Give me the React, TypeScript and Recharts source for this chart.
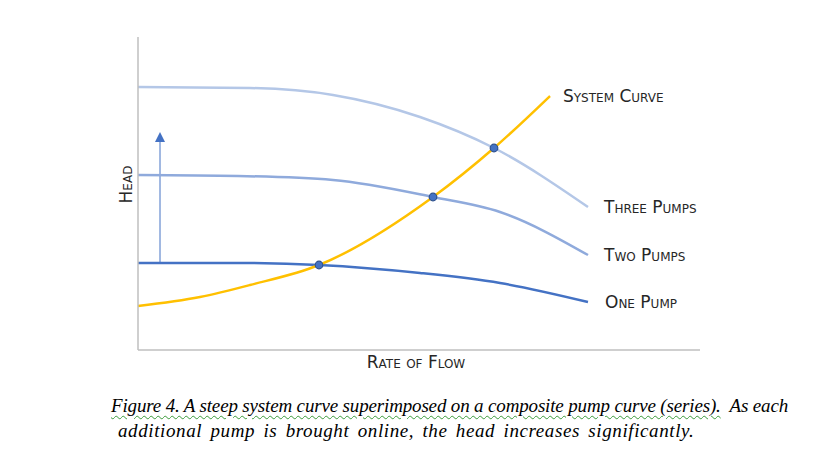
import { LineChart, Line, XAxis, YAxis, Scatter, ReferenceLine, LabelList, Label } from 'recharts';

// flow (x) and head (y) in arbitrary chart units
const onePump = [
  { flow: 0, head: 87 },
  { flow: 100, head: 87 },
  { flow: 181, head: 85 },
  { flow: 282, head: 77 },
  { flow: 362, head: 67 },
  { flow: 450, head: 48 },
];

const twoPumps = [
  { flow: 0, head: 175 },
  { flow: 100, head: 174 },
  { flow: 195, head: 170 },
  { flow: 295, head: 153 },
  { flow: 362, head: 138 },
  { flow: 450, head: 95 },
];

const threePumps = [
  { flow: 0, head: 263 },
  { flow: 112, head: 262 },
  { flow: 195, head: 255 },
  { flow: 282, head: 233 },
  { flow: 356, head: 202 },
  { flow: 450, head: 143 },
];

const systemCurve = [
  { flow: 0, head: 44 },
  { flow: 62, head: 53 },
  { flow: 112, head: 65 },
  { flow: 181, head: 85 },
  { flow: 295, head: 153 },
  { flow: 356, head: 202 },
  { flow: 412, head: 254 },
];

const operatingPoints = [
  { flow: 181, head: 85 },
  { flow: 295, head: 153 },
  { flow: 356, head: 202 },
];

const arrowTip = [{ flow: 22, head: 218 }];

const captionLine1 = 'Figure 4. A steep system curve superimposed on a composite pump curve (series).';
const captionLine1Tail = '\u00a0 As each';
const captionLine2 = 'additional pump is brought online, the head increases significantly.';

const labelFont = "'DejaVu Sans', sans-serif";
const labelStyle = { fontVariant: 'small-caps' as const };

function endLabel(text: string, count: number, dx: number) {
  return (props: any) => {
    if (props.index !== count - 1) return null;
    return (
      <text x={props.x + dx} y={props.y} dy={6} fontSize={17} fontFamily={labelFont} fill="#262626" style={labelStyle}>
        {text}
      </text>
    );
  };
}

export default function App() {
  return (
    <div style={{ position: 'absolute', left: 0, top: 0, width: 824, height: 467, background: '#fff' }}>
      <LineChart width={824} height={385} margin={{ top: 37, right: 124, bottom: 15, left: 118 }}>
        <XAxis
          type="number"
          dataKey="flow"
          domain={[0, 562]}
          height={20}
          tick={false}
          tickLine={false}
          axisLine={{ stroke: '#bfbfbf', strokeWidth: 1.5 }}
        >
          <Label
            content={({ viewBox }: any) => (
              <text
                x={viewBox.x + viewBox.width / 2 - 3}
                y={viewBox.y + 18}
                textAnchor="middle"
                fontSize={17}
                fontFamily={labelFont}
                fill="#262626"
                style={labelStyle}
              >
                Rate of Flow
              </text>
            )}
          />
        </XAxis>
        <YAxis
          type="number"
          dataKey="head"
          domain={[0, 313]}
          width={20}
          tick={false}
          tickLine={false}
          axisLine={{ stroke: '#bfbfbf', strokeWidth: 1.5 }}
        >
          <Label
            content={({ viewBox }: any) => {
              const cx = viewBox.x + viewBox.width - 11;
              const cy = viewBox.y + viewBox.height / 2 - 9;
              return (
                <text
                  x={cx}
                  y={cy}
                  textAnchor="middle"
                  dominantBaseline="middle"
                  transform={`rotate(-90 ${cx} ${cy})`}
                  fontSize={17}
                  fontFamily={labelFont}
                  fill="#262626"
                  style={labelStyle}
                >
                  Head
                </text>
              );
            }}
          />
        </YAxis>
        <ReferenceLine segment={[{ x: 22, y: 87 }, { x: 22, y: 210 }]} stroke="#4472c4" strokeWidth={1} />
        <Line data={threePumps} dataKey="head" type="monotone" stroke="#b4c7e7" strokeWidth={2.5} dot={false} isAnimationActive={false}>
          <LabelList dataKey="head" content={endLabel('Three Pumps', threePumps.length, 16)} />
        </Line>
        <Line data={twoPumps} dataKey="head" type="monotone" stroke="#8faadc" strokeWidth={2.5} dot={false} isAnimationActive={false}>
          <LabelList dataKey="head" content={endLabel('Two Pumps', twoPumps.length, 16)} />
        </Line>
        <Line data={onePump} dataKey="head" type="monotone" stroke="#4472c4" strokeWidth={2.5} dot={false} isAnimationActive={false}>
          <LabelList dataKey="head" content={endLabel('One Pump', onePump.length, 17)} />
        </Line>
        <Line data={systemCurve} dataKey="head" type="monotone" stroke="#ffc000" strokeWidth={2.5} dot={false} isAnimationActive={false}>
          <LabelList dataKey="head" content={endLabel('System Curve', systemCurve.length, 13)} />
        </Line>
        <Scatter
          data={operatingPoints}
          dataKey="head"
          isAnimationActive={false}
          shape={(p: any) => <circle cx={p.cx} cy={p.cy} r={3.8} fill="#4472c4" stroke="#2f528f" strokeWidth={1.2} />}
        />
        <Scatter
          data={arrowTip}
          dataKey="head"
          isAnimationActive={false}
          shape={(p: any) => (
            <polygon points={`${p.cx},${p.cy} ${p.cx - 5},${p.cy + 10} ${p.cx + 5},${p.cy + 10}`} fill="#4472c4" />
          )}
        />
      </LineChart>
      <div
        style={{
          position: 'absolute',
          left: 0,
          top: 393,
          width: 824,
          fontFamily: "'Liberation Serif', 'Times New Roman', serif",
          fontStyle: 'italic',
          fontSize: 19,
          lineHeight: '25px',
          color: '#000',
          whiteSpace: 'nowrap',
        }}
      >
        <div style={{ paddingLeft: 111, letterSpacing: -0.16 }}>
          <span style={{ textDecoration: 'underline wavy #3a9a3a', textDecorationThickness: 1, textUnderlineOffset: 3 }}>
            {captionLine1}
          </span>
          {captionLine1Tail}
        </div>
        <div style={{ paddingLeft: 118, letterSpacing: 0.6, wordSpacing: 3 }}>{captionLine2}</div>
      </div>
    </div>
  );
}
